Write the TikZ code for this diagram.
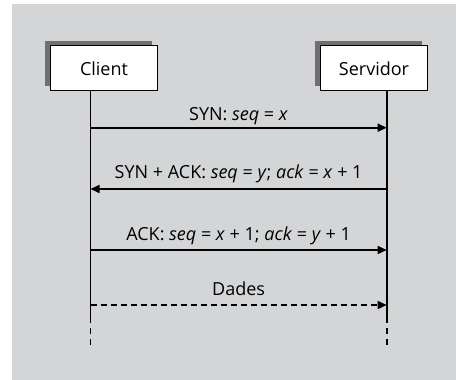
\documentclass[tikz,border=0pt]{standalone}
\usepackage{fontspec}
\setmainfont{Open Sans}
\usetikzlibrary{arrows.meta}
\definecolor{panel}{RGB}{212,213,215}
\definecolor{shade}{RGB}{112,112,114}
\tikzset{
  actor/.style={draw=black, line width=0.9pt, fill=white, minimum width=107pt,
    minimum height=45pt, inner sep=0pt, font=\fontsize{18}{21}\selectfont},
  actorshadow/.style={fill=shade, minimum width=107pt, minimum height=45pt, inner sep=0pt},
  life/.style={line width=1.6pt},
  lifedash/.style={line width=1.6pt, dash pattern=on 6pt off 5pt},
  msg/.style={line width=1.6pt, -{Triangle[length=9pt, width=8pt]}},
  msgdash/.style={msg, dash pattern=on 6pt off 4pt},
  lbl/.style={font=\fontsize{18}{21}\selectfont, inner sep=0pt, anchor=base}
}
\begin{document}
\begin{tikzpicture}[x=1pt, y=-1pt]
  \useasboundingbox (0,0) rectangle (456,380);
  \fill[panel] (12,4) rectangle (456,380);

  % participants with offset shadows
  \node[actorshadow] at (98.5,63) {};
  \node[actorshadow] at (368.5,63) {};
  \node[actor] (client) at (104,68.4) {Client};
  \node[actor] (server) at (374,68.4) {Servidor};

  % lifeline points
  \coordinate (c0) at (90.5,91);
  \coordinate (s0) at (386.7,91);
  \coordinate (c1) at (90.5,127.7);
  \coordinate (s1) at (386.7,127.7);
  \coordinate (c2) at (90.5,189);
  \coordinate (s2) at (386.7,189);
  \coordinate (c3) at (90.5,250);
  \coordinate (s3) at (386.7,250);
  \coordinate (c4) at (90.5,305);
  \coordinate (s4) at (386.7,305);
  \coordinate (c5) at (90.5,317);
  \coordinate (s5) at (386.7,317);
  \coordinate (c6) at (90.5,348);
  \coordinate (s6) at (386.7,348);

  % lifelines
  \draw[life] (c0) -- (c5);
  \draw[life] (s0) -- (s5);
  \draw[lifedash] (c5) -- (c6);
  \draw[lifedash] (s5) -- (s6);

  % messages
  \draw[msg] (c1) -- node[lbl, yshift=7.7pt] {SYN: \textit{seq} = \textit{x}} (s1);
  \draw[msg] (s2) -- node[lbl, yshift=10.7pt] {SYN + ACK: \textit{seq} = \textit{y}; \textit{ack} = \textit{x} + 1} (c2);
  \draw[msg] (c3) -- node[lbl, yshift=10pt] {ACK: \textit{seq} = \textit{x} + 1; \textit{ack} = \textit{y} + 1} (s3);
  \draw[msgdash] (c4) -- node[lbl, yshift=10pt] {Dades} (s4);
\end{tikzpicture}
\end{document}
